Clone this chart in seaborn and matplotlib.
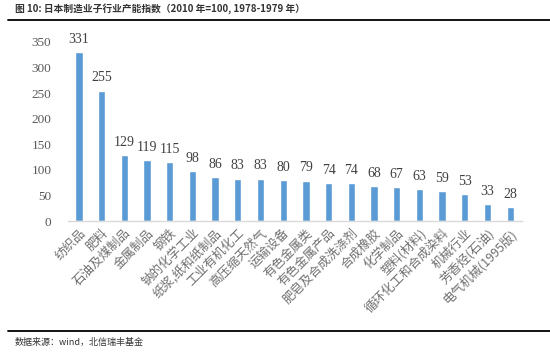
import matplotlib
matplotlib.use("Agg")
import matplotlib.pyplot as plt
import seaborn as sns
import pandas as pd
from matplotlib.lines import Line2D

categories = ["纺织品", "肥料", "石油及煤制品", "金属制品", "钢铁", "钠的化学工业",
              "纸浆,纸和纸制品", "工业有机化工", "高压缩天然气", "运输设备", "有色金属类",
              "有色金属产品", "肥皂及合成洗涤剂", "合成橡胶", "化学制品", "塑料(材料)",
              "循环化工和合成染料", "机械行业", "芳香烃(石油)", "电气机械(1995版)"]
values = [331, 255, 129, 119, 115, 98, 86, 83, 83, 80, 79, 74, 74, 68, 67, 63, 59, 53, 33, 28]
yticks = [0, 50, 100, 150, 200, 250, 300, 350]

sns.set_theme(style="white")
plt.rcParams['font.family'] = ['Noto Sans CJK SC', 'DejaVu Sans']

df = pd.DataFrame({"cat": categories, "val": values})

W, H = 550, 352
fig = plt.figure(figsize=(5.5, 3.52), dpi=100)
ax = fig.add_axes([68 / W, (H - 221) / H, (522 - 68) / W, 179 / H])

sns.barplot(data=df, x="cat", y="val", color="#5B9BD5", saturation=1, width=0.32, ax=ax)
ax.set_xlim(-0.48, 19.52)
ax.set_ylim(0, 350)
ax.set_yticks(yticks)
ax.set_yticklabels([str(t) for t in yticks], fontfamily="Liberation Serif", fontsize=9.5, color="#595959")
ax.tick_params(axis="y", length=0, pad=12)
ax.tick_params(axis="x", length=0, pad=4)
ax.set_xticks(range(len(categories)))
ax.set_xticklabels(categories, rotation=45, ha="right", rotation_mode="anchor",
                   fontsize=9, color="#707070", family=["Noto Sans CJK SC", "DejaVu Sans"])
ax.set_xlabel("")
ax.set_ylabel("")
for s in ["top", "right", "left"]:
    ax.spines[s].set_visible(False)
ax.spines["bottom"].set_color("#D9D9D9")
ax.spines["bottom"].set_linewidth(1)

for i, v in enumerate(values):
    ax.text(i, v + 12, str(v), ha="center", va="bottom", fontsize=10,
            fontfamily="Liberation Serif", color="#404040")

fig.text(15 / W, 1 - 9 / H, "图 10: 日本制造业子行业产能指数（2010 年=100, 1978-1979 年）",
         fontsize=7, fontweight="bold", color="#333333", va="center", ha="left",
         family=["Noto Sans CJK SC", "DejaVu Sans"])
fig.add_artist(Line2D([8 / W, 1.0], [1 - 20 / H, 1 - 20 / H], color="black", lw=1.3,
                      transform=fig.transFigure))
fig.add_artist(Line2D([8 / W, 1.0], [1 - 331 / H, 1 - 331 / H], color="black", lw=1.3,
                      transform=fig.transFigure))
fig.text(15 / W, 1 - 342 / H, "数据来源：wind，北信瑞丰基金", fontsize=6.5, color="#333333",
         va="center", ha="left", family=["Noto Sans CJK SC", "DejaVu Sans"])

fig.savefig("out.png", dpi=100)
